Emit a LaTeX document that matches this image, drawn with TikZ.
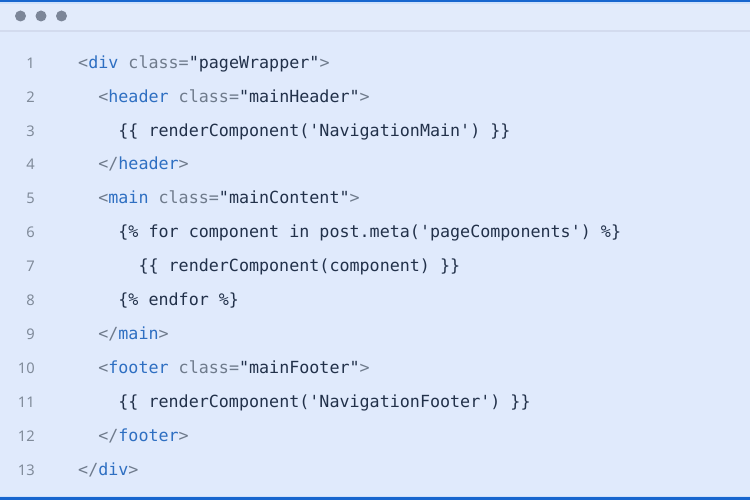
\documentclass[tikz,border=0pt]{standalone}
\usepackage{fontspec}
\newfontfamily\codefont{DejaVu Sans Mono}
\newfontfamily\numfont{Noto Sans}
\definecolor{bg}{HTML}{E0EAFC}
\definecolor{hdr}{HTML}{E2EBFB}
\definecolor{sepc}{HTML}{D3DBEE}
\definecolor{edge}{HTML}{1766CF}
\definecolor{edgelt}{HTML}{CFE1FB}
\definecolor{dotc}{HTML}{7C8698}
\definecolor{navy}{HTML}{22314A}
\definecolor{punc}{HTML}{6F7B8C}
\definecolor{tagc}{HTML}{2E6FC2}
\definecolor{numc}{HTML}{808B9A}
\newcommand\Pu[1]{\textcolor{punc}{#1}}
\newcommand\Tg[1]{\textcolor{tagc}{#1}}
\newcommand\Sq{\textquotesingle}
\begin{document}
\begin{tikzpicture}[x=1pt,y=-1pt,
  codeline/.style={anchor=base west,inner sep=0pt,font=\codefont\fontsize{16.7}{18}\selectfont,text=navy},
  numline/.style={anchor=base east,inner sep=0pt,font=\numfont\fontsize{14.7}{17}\selectfont,text=numc},
  wdot/.style={circle,fill=dotc,minimum size=11pt,inner sep=0pt}]
\useasboundingbox (0,0) rectangle (750,500);
\fill[bg] (0,0) rectangle (750,500);
\fill[hdr] (0,3) rectangle (750,30.5);
\fill[edgelt] (0,2.3) rectangle (750,4);
\fill[edge] (0,0) rectangle (750,2.4);
\fill[sepc] (0,30.3) rectangle (750,32);
\fill[edgelt] (0,495.8) rectangle (750,497.5);
\fill[edge] (0,497.3) rectangle (750,500);
\node[wdot] (d1) at (20.5,16) {};
\node[wdot] (d2) at (41,16) {};
\node[wdot] (d3) at (61.5,16) {};
\def\yo{68.2}
\def\lh{33.92}
\foreach \i in {1,...,13} {
  \node[numline] (n\i) at (35,{\yo+\lh*(\i-1)}) {\i};
}
\def\cw{10.05}
\def\xo{78}
\node[codeline] (l1) at (\xo,\yo) {\Pu{<}\Tg{div} \Pu{class=}"pageWrapper"\Pu{>}};
\node[codeline] (l2) at ({\xo+2*\cw},{\yo+\lh*1}) {\Pu{<}\Tg{header} \Pu{class=}"mainHeader"\Pu{>}};
\node[codeline] (l3) at ({\xo+4*\cw},{\yo+\lh*2}) {\{\{ renderComponent(\Sq NavigationMain\Sq) \}\}};
\node[codeline] (l4) at ({\xo+2*\cw},{\yo+\lh*3}) {\Pu{</}\Tg{header}\Pu{>}};
\node[codeline] (l5) at ({\xo+2*\cw},{\yo+\lh*4}) {\Pu{<}\Tg{main} \Pu{class=}"mainContent"\Pu{>}};
\node[codeline] (l6) at ({\xo+4*\cw},{\yo+\lh*5}) {\{\% for component in post.meta(\Sq pageComponents\Sq) \%\}};
\node[codeline] (l7) at ({\xo+6*\cw},{\yo+\lh*6}) {\{\{ renderComponent(component) \}\}};
\node[codeline] (l8) at ({\xo+4*\cw},{\yo+\lh*7}) {\{\% endfor \%\}};
\node[codeline] (l9) at ({\xo+2*\cw},{\yo+\lh*8}) {\Pu{</}\Tg{main}\Pu{>}};
\node[codeline] (l10) at ({\xo+2*\cw},{\yo+\lh*9}) {\Pu{<}\Tg{footer} \Pu{class=}"mainFooter"\Pu{>}};
\node[codeline] (l11) at ({\xo+4*\cw},{\yo+\lh*10}) {\{\{ renderComponent(\Sq NavigationFooter\Sq) \}\}};
\node[codeline] (l12) at ({\xo+2*\cw},{\yo+\lh*11}) {\Pu{</}\Tg{footer}\Pu{>}};
\node[codeline] (l13) at (\xo,{\yo+\lh*12}) {\Pu{</}\Tg{div}\Pu{>}};
\end{tikzpicture}
\end{document}
